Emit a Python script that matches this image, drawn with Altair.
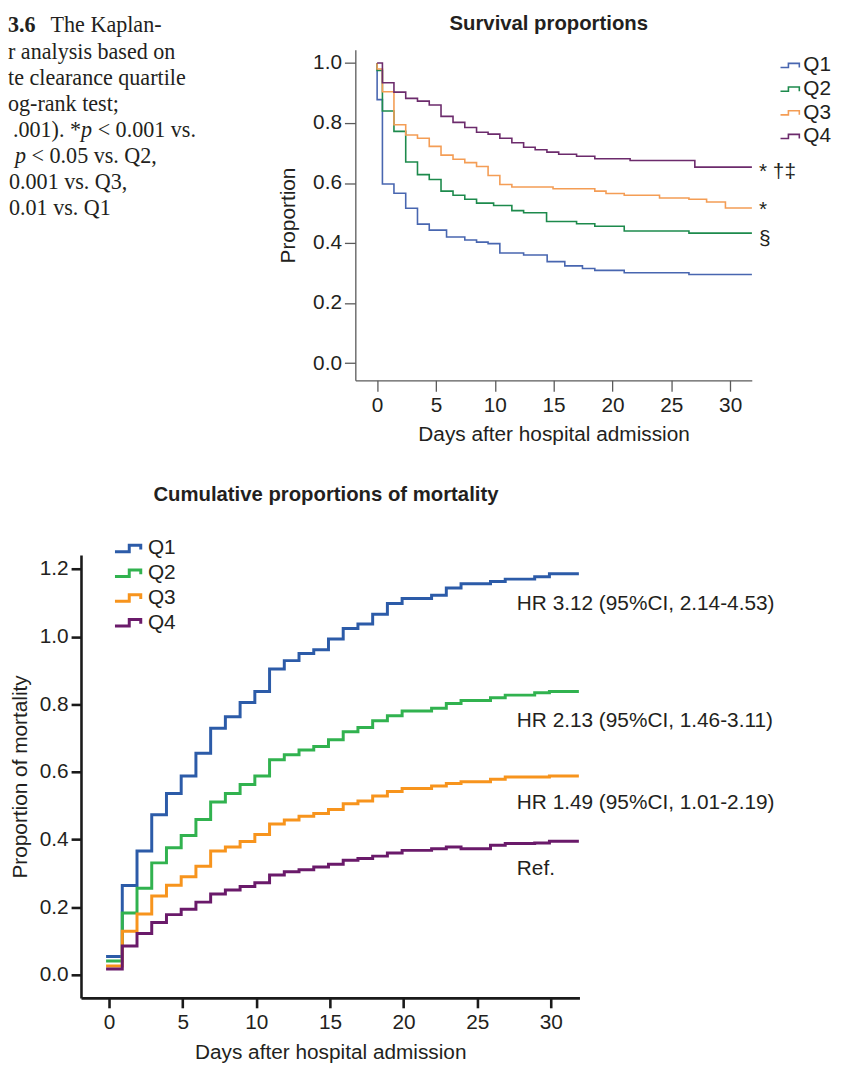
import altair as alt
import pandas as pd

W, H = 833, 1072
M = 8  # page margin; chart px = page px - 8

SERIES = ["Q1", "Q2", "Q3", "Q4"]

# ---------------- top panel: survival proportions ----------------
surv_days = {
    "Q1": [0, 0, 0.45, 1.43, 2.43, 3.43, 4.43, 5.9, 7.45, 8.45, 9.43, 10.43, 12.45, 14.45, 15.95, 17.45, 18.5, 21.0, 26.5, 31.85],
    "Q2": [0, 0, 0.45, 1.43, 2.43, 3.43, 4.43, 5.43, 6.45, 7.45, 8.45, 9.9, 11.45, 12.45, 14.4, 16.95, 18.5, 21.0, 26.5, 31.85],
    "Q3": [0, 0, 0.45, 1.43, 2.43, 3.43, 4.43, 5.43, 6.45, 7.45, 8.45, 9.43, 10.43, 11.45, 14.95, 18.5, 19.45, 21.0, 24.0, 26.5, 28.0, 29.6, 31.85],
    "Q4": [0, 0.45, 1.43, 2.43, 3.43, 4.43, 5.43, 6.45, 7.45, 8.45, 9.43, 10.43, 11.45, 12.45, 13.43, 14.43, 15.43, 16.95, 18.5, 21.5, 27.0, 31.85],
}
surv_vals = {
    "Q1": [1.0, 0.878, 0.597, 0.566, 0.516, 0.463, 0.443, 0.420, 0.410, 0.403, 0.398, 0.367, 0.360, 0.338, 0.324, 0.315, 0.309, 0.301, 0.295, 0.295],
    "Q2": [1.0, 0.975, 0.840, 0.772, 0.670, 0.628, 0.612, 0.573, 0.559, 0.546, 0.533, 0.525, 0.508, 0.501, 0.472, 0.464, 0.456, 0.440, 0.433, 0.433],
    "Q3": [1.0, 0.980, 0.904, 0.794, 0.760, 0.749, 0.722, 0.693, 0.679, 0.668, 0.655, 0.625, 0.595, 0.587, 0.581, 0.573, 0.565, 0.559, 0.550, 0.546, 0.537, 0.517, 0.517],
    "Q4": [1.0, 0.934, 0.903, 0.882, 0.873, 0.860, 0.822, 0.802, 0.785, 0.769, 0.763, 0.749, 0.734, 0.719, 0.711, 0.703, 0.696, 0.689, 0.681, 0.675, 0.653, 0.653],
}
surv_marks = ["* †‡", "*", "§"]
surv_mark_day = [32.45, 32.45, 32.45]
surv_mark_val = [0.638, 0.510, 0.413]

# ---------------- bottom panel: cumulative mortality ----------------
cum_days = [-0.2, 0.9, 1.9, 2.9, 3.9, 4.9, 5.9, 6.9, 7.9, 8.9, 9.9, 10.9, 11.9, 12.9, 13.9,
            14.9, 15.9, 16.9, 17.9, 18.9, 19.9, 21.9, 22.9, 23.9, 25.9, 26.9, 28.9, 29.9, 31.9]
cum_vals = {
    "Q1": [0.054, 0.264, 0.366, 0.473, 0.536, 0.588, 0.655, 0.729, 0.763, 0.805, 0.838, 0.904, 0.929, 0.950, 0.961,
           0.993, 1.024, 1.037, 1.066, 1.098, 1.113, 1.122, 1.144, 1.156, 1.163, 1.170, 1.177, 1.186, 1.186],
    "Q2": [0.041, 0.183, 0.256, 0.331, 0.376, 0.412, 0.459, 0.511, 0.536, 0.563, 0.588, 0.636, 0.651, 0.665, 0.675,
           0.695, 0.719, 0.731, 0.751, 0.766, 0.780, 0.788, 0.802, 0.811, 0.819, 0.827, 0.834, 0.838, 0.838],
    "Q3": [0.026, 0.129, 0.180, 0.233, 0.265, 0.290, 0.321, 0.366, 0.378, 0.394, 0.415, 0.446, 0.458, 0.469, 0.477,
           0.489, 0.506, 0.514, 0.529, 0.542, 0.551, 0.558, 0.566, 0.571, 0.578, 0.585, 0.585, 0.588, 0.588],
    "Q4": [0.017, 0.085, 0.122, 0.155, 0.178, 0.194, 0.215, 0.239, 0.251, 0.261, 0.272, 0.295, 0.305, 0.311, 0.319,
           0.327, 0.339, 0.344, 0.351, 0.360, 0.368, 0.373, 0.378, 0.373, 0.383, 0.388, 0.390, 0.395, 0.395],
}
hr_labels = ["HR 3.12 (95%CI, 2.14-4.53)", "HR 2.13 (95%CI, 1.46-3.11)", "HR 1.49 (95%CI, 1.01-2.19)", "Ref."]
hr_day = [27.69, 27.69, 27.69, 27.69]
hr_val = [1.095, 0.750, 0.507, 0.314]

# caption fragment as visible in the (left-cropped) source page: (text, line, x offset, weight, style)
caption_parts = [
    ("3.6", 0, 0, "bold", "normal"),
    ("The Kaplan-", 0, 43, "normal", "normal"),
    ("r analysis based on", 1, 0, "normal", "normal"),
    ("te clearance quartile", 2, 0, "normal", "normal"),
    ("og-rank test;", 3, 0, "normal", "normal"),
    (".001). *", 4, 5, "normal", "normal"),
    ("p", 4, 73.8, "normal", "italic"),
    ("< 0.001 vs.", 4, 90.5, "normal", "normal"),
    ("p", 5, 7, "normal", "italic"),
    ("< 0.05 vs. Q2,", 5, 23.8, "normal", "normal"),
    ("0.001 vs. Q3,", 6, 1, "normal", "normal"),
    ("0.01 vs. Q1", 7, 1, "normal", "normal"),
]

top_colors = ["#4866b0", "#1d8a4c", "#f49d55", "#6c2b6c"]
bot_colors = ["#2c5ba8", "#31b24f", "#f7941d", "#6a1a6a"]

FONT = "Liberation Sans"
SERIF = "Liberation Serif"
TXT = "#231f20"
CAP = 22.3        # caption font size
LH = 26.4         # caption line height
BASE0 = 27.5      # first caption baseline (page px)


def frame(days, vals):
    rows = []
    for s in SERIES:
        d = days[s] if isinstance(days, dict) else days
        for i, (x, v) in enumerate(zip(d, vals[s])):
            rows.append({"series": s, "day": x, "value": v, "idx": i})
    return pd.DataFrame(rows)


surv_df = frame(surv_days, surv_vals)
cum_df = frame(cum_days, cum_vals)

# ---------- top encodings ----------
top_x = alt.X("day:Q",
              scale=alt.Scale(domain=[-1.852, 31.84], range=[358.7 - M, 759 - M], nice=False, zero=False),
              axis=alt.Axis(orient="bottom", offset=(378.7 - M) - H, values=[0, 5, 10, 15, 20, 25, 30],
                            title="Days after hospital admission", titlePadding=8,
                            tickSize=11, labelPadding=4, domainColor="#5a5a5a", tickColor="#5a5a5a",
                            domainWidth=1.3, tickWidth=1.3, grid=False))
top_y = alt.Y("value:Q",
              scale=alt.Scale(domain=[-0.0574, 1.044], range=[378.7 - M, 45 - M], nice=False, zero=False),
              axis=alt.Axis(orient="left", offset=-(358.7 - M), values=[0, 0.2, 0.4, 0.6, 0.8, 1.0], format=".1f",
                            title="Proportion", titlePadding=14,
                            tickSize=11, labelPadding=3, domainColor="#5a5a5a", tickColor="#5a5a5a",
                            domainWidth=1.3, tickWidth=1.3, grid=False))

TOP_SYM = "M -1 0.22 H -0.16 V -0.22 H 1 V 0.22"
BOT_SYM = "M -1.483 0.372 H 0.12 V -0.372 H 1.41 V 0.12"

top_lines = alt.Chart(surv_df).mark_line(interpolate="step-after", strokeWidth=1.6).encode(
    x=top_x, y=top_y,
    color=alt.Color("series:N",
                    scale=alt.Scale(domain=SERIES, range=top_colors),
                    legend=alt.Legend(orient="none", legendX=779, legendY=42.3, title=None,
                                      symbolType=TOP_SYM, symbolSize=361, symbolStrokeWidth=1.6,
                                      symbolFillColor="transparent", labelFontSize=21, labelColor=TXT,
                                      labelFont=FONT, rowPadding=1.9, padding=0, labelOffset=3,
                                      symbolOffset=0)),
    order="idx:Q",
)

top_ann = alt.Chart(pd.DataFrame({"day": surv_mark_day, "value": surv_mark_val, "label": surv_marks})).mark_text(
    align="left", baseline="middle", fontSize=21, color=TXT, font=FONT
).encode(x=top_x, y=top_y, text="label:N")

top_title = alt.Chart(pd.DataFrame({"t": ["Survival proportions"]})).mark_text(
    align="center", baseline="middle", fontSize=20.5, fontWeight="bold", color=TXT, font=FONT
).encode(x=alt.value(554 - M), y=alt.value(19 - M), text="t:N")


def cap(txt, line, x, weight, style):
    # the source page is cropped at its left edge; the fragment starts at the chart's left edge
    return alt.Chart(pd.DataFrame({"t": [txt]})).mark_text(
        align="left", baseline="alphabetic", fontSize=CAP, fontWeight=weight, fontStyle=style,
        color=TXT, font=SERIF
    ).encode(x=alt.value(x), y=alt.value(BASE0 + line * LH - M), text="t:N")


caption = [cap(*p) for p in caption_parts]

top = alt.layer(top_lines, top_ann, top_title, *caption)

# ---------- bottom encodings ----------
bot_x = alt.X("day:Q",
              scale=alt.Scale(domain=[-1.903, 31.94], range=[81.7 - M, 585 - M], nice=False, zero=False),
              axis=alt.Axis(orient="bottom", offset=(1002.3 - M) - H, values=[0, 5, 10, 15, 20, 25, 30],
                            title="Days after hospital admission", titlePadding=9,
                            tickSize=10, labelPadding=4, domainColor="#1a1a1a", tickColor="#1a1a1a",
                            domainWidth=2.6, tickWidth=2.6, grid=False))
bot_y = alt.Y("value:Q",
              scale=alt.Scale(domain=[-0.0682, 1.2416], range=[1002.3 - M, 555 - M], nice=False, zero=False),
              axis=alt.Axis(orient="left", offset=-(81.7 - M), values=[0, 0.2, 0.4, 0.6, 0.8, 1.0, 1.2],
                            format=".1f", title="Proportion of mortality", titlePadding=9,
                            tickSize=10, labelPadding=3, domainColor="#1a1a1a", tickColor="#1a1a1a",
                            domainWidth=2.6, tickWidth=2.6, grid=False))

bot_lines = alt.Chart(cum_df).mark_line(interpolate="step-after", strokeWidth=3).encode(
    x=bot_x, y=bot_y,
    color=alt.Color("series:N",
                    scale=alt.Scale(domain=SERIES, range=bot_colors),
                    legend=alt.Legend(orient="none", legendX=110.85, legendY=530, title=None,
                                      symbolType=BOT_SYM, symbolSize=324, symbolStrokeWidth=3,
                                      symbolFillColor="transparent", labelFontSize=21, labelColor=TXT,
                                      labelFont=FONT, rowPadding=3, padding=0, labelOffset=9.4,
                                      symbolOffset=0)),
    order="idx:Q",
)

bot_ann = alt.Chart(pd.DataFrame({"day": hr_day, "value": hr_val, "label": hr_labels})).mark_text(
    align="left", baseline="middle", fontSize=21, color=TXT, font=FONT
).encode(x=bot_x, y=bot_y, text="label:N")

bot_title = alt.Chart(pd.DataFrame({"t": ["Cumulative proportions of mortality"]})).mark_text(
    align="center", baseline="middle", fontSize=20.5, fontWeight="bold", color=TXT, font=FONT
).encode(x=alt.value(329 - M), y=alt.value(495 - M), text="t:N")

bottom = alt.layer(bot_lines, bot_ann, bot_title)

chart = alt.layer(top, bottom).resolve_scale(
    x="independent", y="independent", color="independent"
).resolve_axis(x="independent", y="independent").resolve_legend(color="independent").properties(
    width=W, height=H, padding=0, autosize=alt.AutoSizeParams(type="none")
).configure(font=FONT).configure_view(stroke=None).configure_axis(
    labelFont=FONT, titleFont=FONT, labelFontSize=21, titleFontSize=21, titleFontWeight="normal",
    labelColor=TXT, titleColor=TXT
)

chart.save("out.html", embed_options={"renderer": "svg", "actions": False})
